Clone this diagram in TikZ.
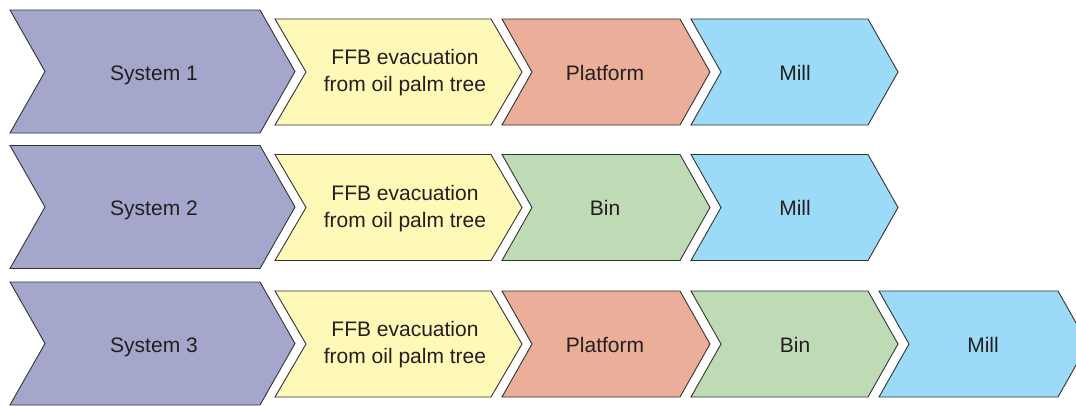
\documentclass[tikz,border=0pt]{standalone}
\usepackage{fontspec}
\setmainfont{Liberation Sans}
\definecolor{sysc}{HTML}{A4A6CC}
\definecolor{ffbc}{HTML}{FFF9B8}
\definecolor{platc}{HTML}{EBAE98}
\definecolor{binc}{HTML}{BFDBB6}
\definecolor{millc}{HTML}{9CDBF7}
\definecolor{edgec}{HTML}{333333}
\definecolor{txtc}{HTML}{231F20}
% #1 x-left, #2 x-right (tip), #3 y-centre, #4 half height, #5 depth, #6 fill
\newcommand\chevshape[6]{%
  \filldraw[chev, fill=#6] (#1,#3-#4) -- (#2-#5,#3-#4) -- (#2,#3) -- (#2-#5,#3+#4) -- (#1,#3+#4) -- (#1+#5,#3) -- cycle;}
\tikzset{
  chev/.style={draw=edgec, line width=0.9pt, line join=miter},
  lbl/.style={font=\fontsize{21}{27}\selectfont, text=txtc, inner sep=0pt, text height=16pt, text depth=0pt},
  lbltwo/.style={font=\fontsize{21}{27}\selectfont, text=txtc, align=center, inner sep=0pt, yshift=-1pt}
}
\begin{document}
\begin{tikzpicture}[x=1pt,y=-1pt]
\useasboundingbox (0,0) rectangle (1076,405);
\clip (0,0) rectangle (1076,405);
% Row 1
\chevshape{10}{295}{71.5}{61.5}{35}{sysc}
\chevshape{275}{522}{72}{53}{31}{ffbc}
\chevshape{502}{710}{72}{53}{30}{platc}
\chevshape{691}{898}{72}{53}{30}{millc}
\node[lbl] (s1) at (154,72) {System 1};
\node[lbltwo] (f1) at (405,72) {FFB evacuation\\from oil palm tree};
\node[lbl] (p1) at (605,72) {Platform};
\node[lbl] (m1) at (795,72) {Mill};
% Row 2
\chevshape{10}{295}{207}{61.5}{35}{sysc}
\chevshape{275}{522}{207.5}{53}{31}{ffbc}
\chevshape{502}{710}{207.5}{53}{30}{binc}
\chevshape{691}{898}{207.5}{53}{30}{millc}
\node[lbl] (s2) at (154,207.5) {System 2};
\node[lbltwo] (f2) at (405,207.5) {FFB evacuation\\from oil palm tree};
\node[lbl] (b2) at (605,207.5) {Bin};
\node[lbl] (m2) at (795,207.5) {Mill};
% Row 3
\chevshape{10}{295}{343.5}{61.5}{35}{sysc}
\chevshape{275}{522}{344}{53}{31}{ffbc}
\chevshape{502}{710}{344}{53}{30}{platc}
\chevshape{691}{898}{344}{53}{30}{binc}
\chevshape{879}{1088}{344}{53}{30}{millc}
\node[lbl] (s3) at (154,344) {System 3};
\node[lbltwo] (f3) at (405,344) {FFB evacuation\\from oil palm tree};
\node[lbl] (p3) at (605,344) {Platform};
\node[lbl] (b3) at (795,344) {Bin};
\node[lbl] (m3) at (983,344) {Mill};
\end{tikzpicture}
\end{document}
